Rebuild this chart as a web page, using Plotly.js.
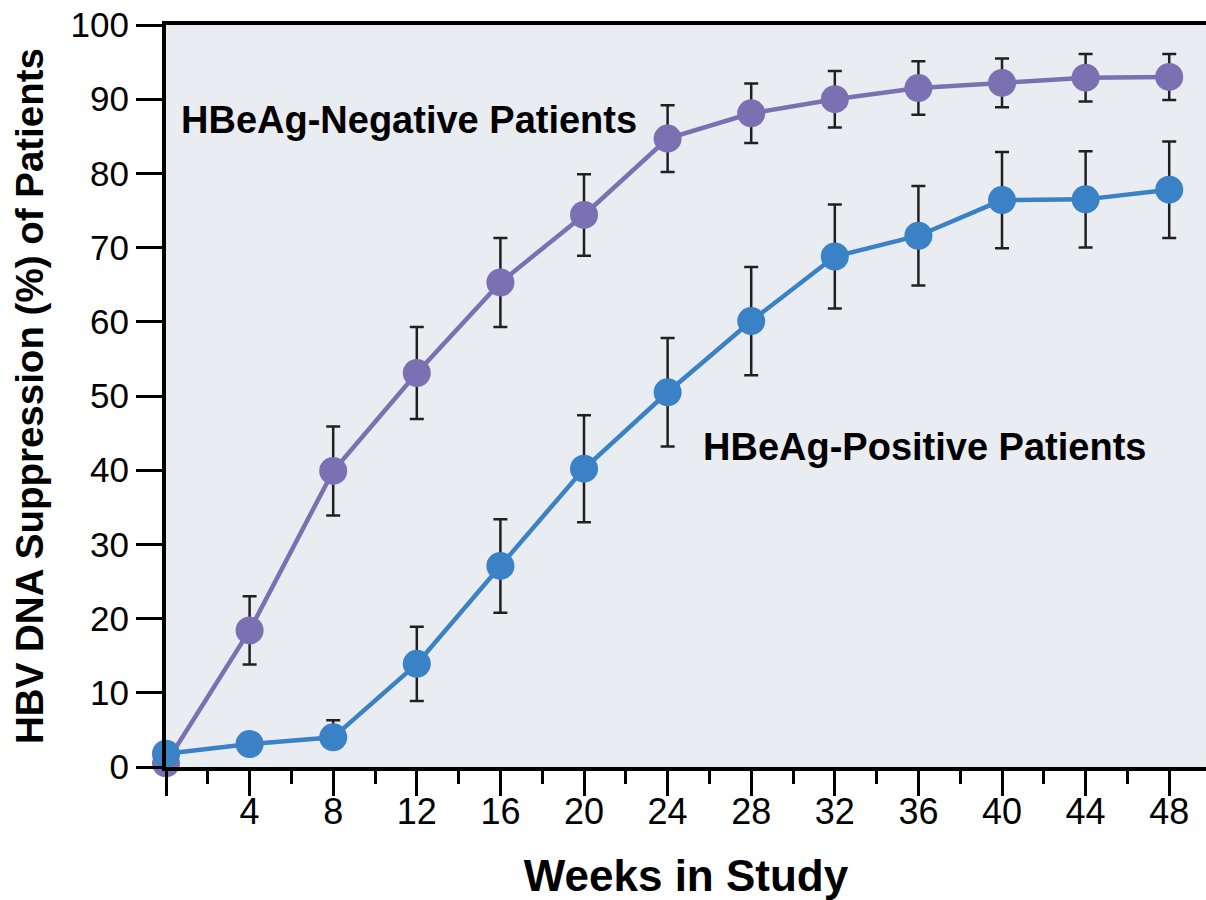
<!DOCTYPE html>
<html>
<head>
<meta charset="utf-8">
<script src="https://cdn.plot.ly/plotly-3.0.1.min.js"></script>
<style>
  html, body { margin: 0; padding: 0; background: #ffffff; }
  #chart { width: 1206px; height: 900px; }
</style>
</head>
<body>
<div id="chart"></div>
<script>
const weeks = [0, 4, 8, 12, 16, 20, 24, 28, 32, 36, 40, 44, 48];
const negativeValues = [0.5, 18.4, 39.9, 53.1, 65.3, 74.4, 84.7, 88.1, 90.0, 91.5, 92.2, 92.9, 93.0];
const negativeErrors = [0.5, 4.6, 6.0, 6.2, 6.0, 5.5, 4.5, 4.0, 3.8, 3.6, 3.3, 3.2, 3.1];
const positiveValues = [1.8, 3.1, 4.0, 13.9, 27.1, 40.2, 50.5, 60.1, 68.8, 71.6, 76.4, 76.5, 77.8];
const positiveErrorsUp = [0.5, 0.8, 2.3, 5.0, 6.3, 7.2, 7.3, 7.3, 7.0, 6.7, 6.5, 6.5, 6.5];
const positiveErrorsDown = [0.5, 0.8, 1.4, 5.0, 6.3, 7.2, 7.3, 7.3, 7.0, 6.7, 6.5, 6.5, 6.5];
const xTickVals = [0, 4, 8, 12, 16, 20, 24, 28, 32, 36, 40, 44, 48];
const xTickText = ['', '4', '8', '12', '16', '20', '24', '28', '32', '36', '40', '44', '48'];
const yTickVals = [0, 10, 20, 30, 40, 50, 60, 70, 80, 90, 100];
const negativeLabel = 'HBeAg-Negative Patients';
const positiveLabel = 'HBeAg-Positive Patients';

const FONT = '"Liberation Sans", Arial, Helvetica, sans-serif';
const PURPLE = '#7b70b2';
const BLUE = '#3a81c5';
const ERR = '#231f20';

const traces = [
  {
    x: weeks, y: negativeValues, type: 'scatter', mode: 'lines+markers',
    name: negativeLabel, cliponaxis: false,
    line: { color: PURPLE, width: 4.5 },
    marker: { color: PURPLE, size: 28 },
    error_y: { type: 'data', array: negativeErrors, visible: true, color: ERR, thickness: 2.5, width: 7 }
  },
  {
    x: weeks, y: positiveValues, type: 'scatter', mode: 'lines+markers',
    name: positiveLabel, cliponaxis: false,
    line: { color: BLUE, width: 4.5 },
    marker: { color: BLUE, size: 28 },
    error_y: { type: 'data', symmetric: false, array: positiveErrorsUp, arrayminus: positiveErrorsDown, visible: true, color: ERR, thickness: 2.5, width: 7 }
  }
];

const layout = {
  width: 1206, height: 900,
  margin: { l: 166, r: 0, t: 25, b: 133 },
  paper_bgcolor: '#ffffff',
  plot_bgcolor: '#e9edf1',
  showlegend: false,
  font: { family: FONT, color: '#000000' },
  xaxis: {
    range: [0, 49.76],
    tickmode: 'array', tickvals: xTickVals, ticktext: xTickText,
    ticks: 'outside', ticklen: 25, tickwidth: 3, tickcolor: '#000',
    minor: { tickmode: 'linear', tick0: 0, dtick: 2, ticks: 'outside', ticklen: 13, tickwidth: 3, tickcolor: '#000', showgrid: false },
    showline: true, linewidth: 4, linecolor: '#000', mirror: true,
    showgrid: false, zeroline: false,
    ticklabelstandoff: -15,
    tickfont: { family: FONT, size: 36, color: '#000' },
    title: { text: 'Weeks in Study', standoff: 53, font: { family: FONT, size: 44, color: '#000', weight: 'bold' } }
  },
  yaxis: {
    range: [0, 100],
    tickmode: 'array', tickvals: yTickVals,
    ticks: 'outside', ticklen: 26, tickwidth: 3, tickcolor: '#000',
    showline: true, linewidth: 4, linecolor: '#000', mirror: false,
    showgrid: false, zeroline: false,
    tickfont: { family: FONT, size: 35, color: '#000' },
    title: { text: 'HBV DNA Suppression (%) of Patients', standoff: 16, font: { family: FONT, size: 38.5, color: '#000', weight: 'bold' } }
  },
  annotations: [
    { x: 0.6, y: 87.2, xref: 'x', yref: 'y', text: negativeLabel, showarrow: false,
      xanchor: 'left', yanchor: 'middle', font: { family: FONT, size: 38, color: '#000', weight: 'bold' } },
    { x: 25.6, y: 43.1, xref: 'x', yref: 'y', text: positiveLabel, showarrow: false,
      xanchor: 'left', yanchor: 'middle', font: { family: FONT, size: 38, color: '#000', weight: 'bold' } }
  ]
};

Plotly.newPlot('chart', traces, layout, { displayModeBar: false, staticPlot: true });
</script>
</body>
</html>
